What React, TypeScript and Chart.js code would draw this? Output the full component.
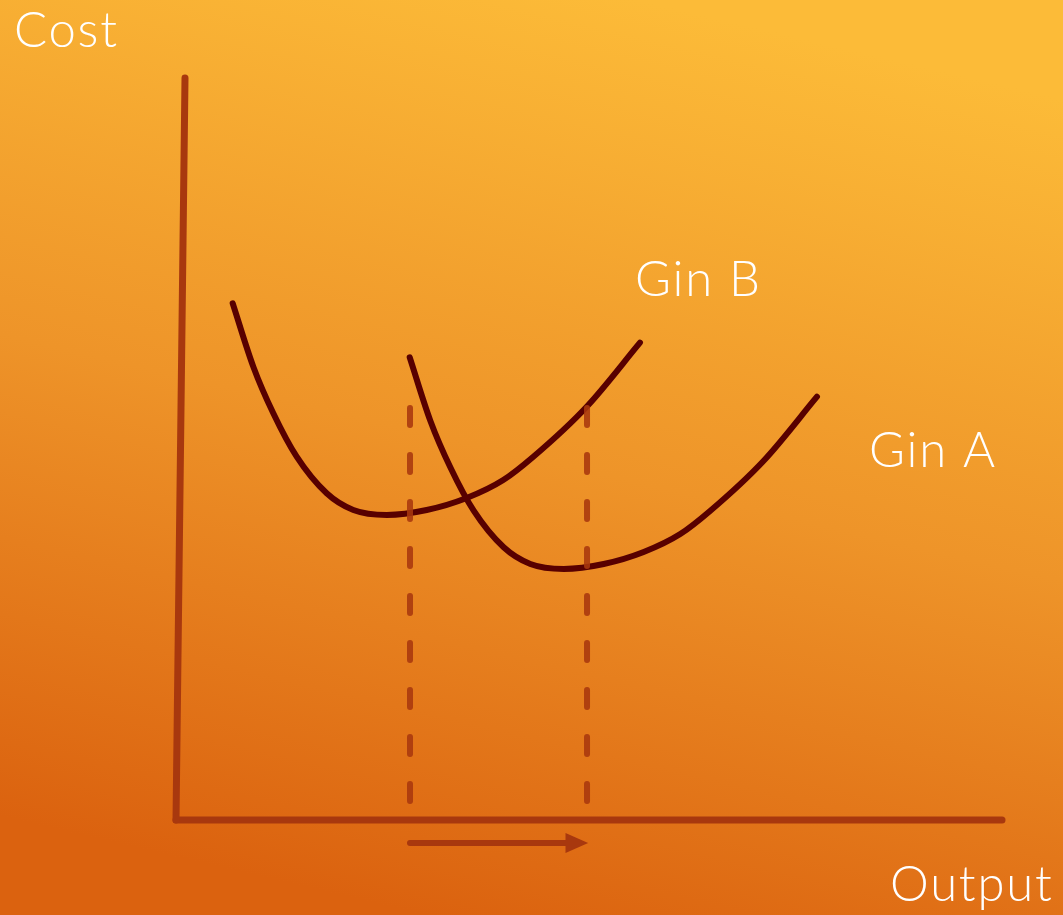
import React, { useEffect, useRef } from "react";
import { Chart, registerables } from "chart.js";

Chart.register(...registerables);

// Abstract units: Output on x (0..10), Cost on y (0..10)
const ginBX = [0.686, 0.936, 1.178, 1.461, 1.824, 2.147, 2.551, 3.035, 3.519, 3.962, 4.326, 4.972, 5.617];
const ginBY = [6.964, 6.109, 5.481, 4.896, 4.403, 4.178, 4.111, 4.178, 4.34, 4.582, 4.896, 5.57, 6.433];
const ginAX = [2.829, 3.079, 3.321, 3.604, 3.967, 4.29, 4.694, 5.178, 5.662, 6.105, 6.469, 7.115, 7.76];
const ginAY = [6.236, 5.381, 4.753, 4.168, 3.675, 3.45, 3.383, 3.45, 3.612, 3.854, 4.168, 4.842, 5.705];

const axisYX = [0, 0.109];
const axisYY = [0, 10];
const axisXX = [0, 10];
const axisXY = [0, 0];

const dashXs = [2.833, 4.976];
const dashTop = 5.553;
const dashBottom = 0.22;

const arrowX = [2.833, 4.74];
const arrowTipX = 4.99;
const arrowY = -0.31;

const labelTexts = ["Cost", "Gin B", "Gin A", "Output"];
const labelXs = [-1.961, 5.557, 8.39, 8.644];
const labelYs = [10.418, 7.062, 4.757, -1.092];

const zip = (xs: number[], ys: number[]) => xs.map((x, i) => ({ x, y: ys[i] }));

const AXIS = "#a8380e";
const CURVE = "#580000";

const bgPlugin = {
  id: "bg",
  beforeDraw(chart: any) {
    const { ctx, width, height } = chart;
    const g = ctx.createLinearGradient(width * 0.6, 0, width * 0.4, height);
    g.addColorStop(0, "#fcbb38");
    g.addColorStop(0.5, "#ee9429");
    g.addColorStop(1, "#db620f");
    ctx.save();
    ctx.fillStyle = g;
    ctx.fillRect(0, 0, width, height);
    ctx.restore();
  },
};

const overlayPlugin = {
  id: "overlay",
  afterDatasetsDraw(chart: any) {
    const { ctx } = chart;
    const xs = chart.scales.x;
    const ys = chart.scales.y;
    ctx.save();
    // arrow head
    const bx = xs.getPixelForValue(arrowX[1]);
    const tx = xs.getPixelForValue(arrowTipX);
    const py = ys.getPixelForValue(arrowY);
    ctx.fillStyle = AXIS;
    ctx.beginPath();
    ctx.moveTo(bx - 2, py - 10);
    ctx.lineTo(tx, py);
    ctx.lineTo(bx - 2, py + 10);
    ctx.closePath();
    ctx.fill();
    // labels
    ctx.fillStyle = "#ffffff";
    ctx.textBaseline = "alphabetic";
    ctx.textAlign = "left";
    ctx.font = "300 49px Lato, 'Open Sans', sans-serif";
    (ctx as any).letterSpacing = "1.8px";
    labelTexts.forEach((t, i) => {
      ctx.fillText(t, xs.getPixelForValue(labelXs[i]), ys.getPixelForValue(labelYs[i]));
    });
    ctx.restore();
  },
};

export default function App() {
  const ref = useRef<HTMLCanvasElement | null>(null);
  useEffect(() => {
    document.body.style.margin = "0";
    const canvas = ref.current;
    if (!canvas) return;
    const dashSets = dashXs.map((x) => ({
      data: [
        { x, y: dashTop },
        { x, y: dashBottom },
      ],
      borderColor: "rgba(168,56,14,0.88)",
      borderWidth: 6,
      borderDash: [17, 30],
      borderCapStyle: "round",
      pointRadius: 0,
      clip: false,
      order: 0,
    }));
    const chart = new Chart(canvas, {
      type: "line",
      data: {
        datasets: [
          ...dashSets,
          {
            data: zip(ginBX, ginBY),
            borderColor: CURVE,
            borderWidth: 6,
            cubicInterpolationMode: "monotone",
            borderCapStyle: "round",
            pointRadius: 0,
            clip: false,
            order: 1,
          },
          {
            data: zip(ginAX, ginAY),
            borderColor: CURVE,
            borderWidth: 6,
            cubicInterpolationMode: "monotone",
            borderCapStyle: "round",
            pointRadius: 0,
            clip: false,
            order: 1,
          },
          {
            data: zip(axisYX, axisYY),
            borderColor: AXIS,
            borderWidth: 7,
            borderCapStyle: "round",
            pointRadius: 0,
            clip: false,
            order: 2,
          },
          {
            data: zip(axisXX, axisXY),
            borderColor: AXIS,
            borderWidth: 7,
            borderCapStyle: "round",
            pointRadius: 0,
            clip: false,
            order: 2,
          },
          {
            data: zip(arrowX, [arrowY, arrowY]),
            borderColor: AXIS,
            borderWidth: 6,
            borderCapStyle: "round",
            pointRadius: 0,
            clip: false,
            order: 2,
          },
        ] as any,
      },
      options: {
        animation: false,
        responsive: false,
        events: [],
        layout: { padding: { left: 176, right: 61, top: 78, bottom: 95 } },
        plugins: { legend: { display: false }, tooltip: { enabled: false } },
        scales: {
          x: { type: "linear", min: 0, max: 10, display: false },
          y: { type: "linear", min: 0, max: 10, display: false },
        },
      },
      plugins: [bgPlugin, overlayPlugin],
    });
    return () => chart.destroy();
  }, []);
  return <canvas ref={ref} width={1063} height={915} style={{ display: "block" }} />;
}
